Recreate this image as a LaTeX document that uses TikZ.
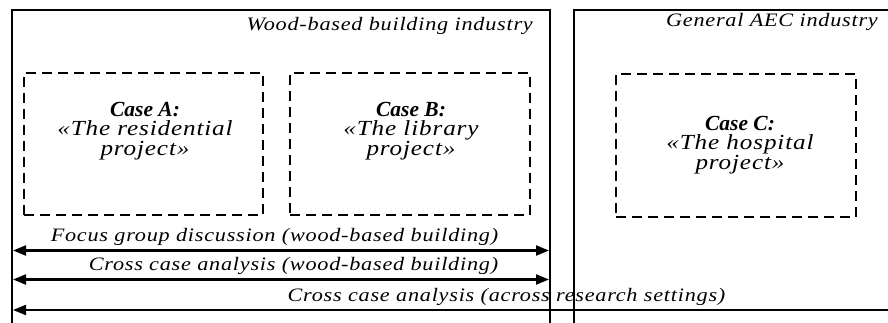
\documentclass[tikz,border=0pt]{standalone}
\usepackage{fontspec}
% italic text uses a widened face with a little extra tracking
\setmainfont{Liberation Serif}[ItalicFeatures={FakeStretch=1.17, LetterSpace=4}]
\usetikzlibrary{arrows.meta}
\begin{document}
\begin{tikzpicture}[x=1pt,y=-1pt,
  frame/.style={line width=1.7pt},
  casebox/.style={draw, dash pattern=on 10pt off 6pt, line width=1.4pt, inner sep=0pt},
  casetext/.style={align=center, inner sep=0pt,
    font=\fontsize{21.5}{19.5}\selectfont\itshape},
  header/.style={anchor=base east, inner sep=0pt,
    font=\fontsize{19}{22}\selectfont\itshape},
  flowtext/.style={anchor=base, inner sep=0pt,
    font=\fontsize{19}{22}\selectfont\itshape},
  flow/.style={line width=2.1pt},
  tip/.tip={Triangle[length=13pt,width=10pt]}]
\useasboundingbox (0,0) rectangle (888,323);

% industry frames (open at the bottom)
\draw[frame] (12,323) -- (12,10) -- (550,10) -- (550,323);
\draw[frame] (574,323) -- (574,10) -- (888,10);
\node[header] (wood) at (533,31) {Wood-based building industry};
\node[header] (aec) at (878,27) {General AEC industry};

% case boxes
\node[casebox, minimum width=239pt, minimum height=142pt] (boxA) at (143.5,144) {};
\node[casebox, minimum width=240pt, minimum height=142pt] (boxB) at (410,144) {};
\node[casebox, minimum width=240pt, minimum height=143pt] (boxC) at (736,145.5) {};
\node[casetext] (caseA) at (145,131) {\textbf{Case A:}\\«The residential\\project»};
\node[casetext] (caseB) at (411,131) {\textbf{Case B:}\\«The library\\project»};
\node[casetext] (caseC) at (740,145) {\textbf{Case C:}\\«The hospital\\project»};

% analysis spans
\coordinate (f1) at (13,250.5);  \coordinate (f2) at (549,250.5);
\coordinate (c1) at (13,279.5);  \coordinate (c2) at (549,279.5);
\coordinate (g1) at (13,310);    \coordinate (g2) at (890,310);
\draw[flow, tip-tip] (f1) -- (f2);
\draw[flow, tip-tip] (c1) -- (c2);
\draw[flow, tip-] (g1) -- (g2);
\node[flowtext] (focus) at (274.5,241.5) {Focus group discussion (wood-based building)};
\node[flowtext] (crosswood) at (293.5,270.5) {Cross case analysis (wood-based building)};
\node[flowtext] (crossall) at (506.5,301) {Cross case analysis (across research settings)};
\end{tikzpicture}
\end{document}
